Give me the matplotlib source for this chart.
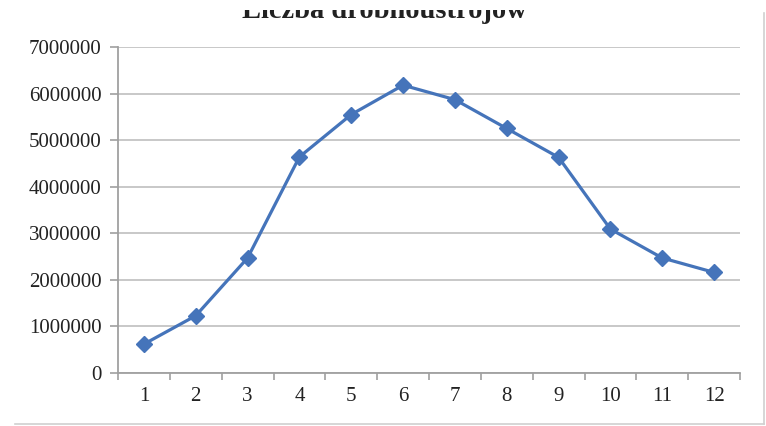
import matplotlib
matplotlib.use("Agg")
import matplotlib.pyplot as plt
from matplotlib.lines import Line2D
from matplotlib.patches import Rectangle

months = [1, 2, 3, 4, 5, 6, 7, 8, 9, 10, 11, 12]
counts = [620000, 1230000, 2470000, 4640000, 5550000, 6180000,
          5870000, 5250000, 4630000, 3090000, 2470000, 2160000]
yticks = [0, 1000000, 2000000, 3000000, 4000000, 5000000, 6000000, 7000000]
title = "Liczba drobnoustrojów"

plt.rcParams['font.family'] = ['Liberation Serif', 'DejaVu Serif']

fig = plt.figure(figsize=(7.66, 4.26), dpi=100)
ax = fig.add_axes([118/766, 1-373/426, (740-118)/766, (373-47)/426])

blue = '#4574BA'
ax.plot(months, counts, color=blue, lw=2.3, marker='D', ms=8.5,
        mfc=blue, mec=blue, zorder=3, solid_joinstyle='round')

ax.set_xlim(0.5, 12.5)
ax.set_ylim(0, 7000000)
ax.set_yticks(yticks)
ax.set_yticklabels([str(v) for v in yticks])
ax.set_xticks(months)
ax.set_xticklabels([str(m) for m in months])
ax.set_xticks([m + 0.5 for m in [0] + months], minor=True)
ax.tick_params(axis='x', which='major', length=0, pad=10, labelsize=15, labelcolor='#222222')
ax.tick_params(axis='x', which='minor', length=5, width=1.2, color='#a0a0a0', direction='out')
ax.tick_params(axis='y', which='major', length=6, width=1.2, color='#a0a0a0', pad=6,
               labelsize=15, labelcolor='#222222')

ax.grid(axis='y', color='#c4c4c4', lw=1.3)
ax.set_axisbelow(True)
for s in ['top', 'right']:
    ax.spines[s].set_visible(False)
for s in ['left', 'bottom']:
    ax.spines[s].set_color('#a0a0a0')
    ax.spines[s].set_linewidth(1.3)

fig.text(384/766, 1-18/426, title, ha='center', va='baseline',
         fontsize=20.5, fontweight='bold', color='#222222', zorder=1)

# the reference's title is cropped at the top edge
fig.add_artist(Rectangle((0, 1-10/426), 1, 10/426, transform=fig.transFigure,
                         facecolor='white', edgecolor='none', zorder=5))

# light chart-area border (right and bottom)
fig.add_artist(Line2D([764/766, 764/766], [1-13/426, 1-424/426],
                      transform=fig.transFigure, color='#d0d0d0', lw=1.2))
fig.add_artist(Line2D([15/766, 764/766], [1-424/426, 1-424/426],
                      transform=fig.transFigure, color='#d0d0d0', lw=1.2))

fig.savefig('out.png', dpi=100)
